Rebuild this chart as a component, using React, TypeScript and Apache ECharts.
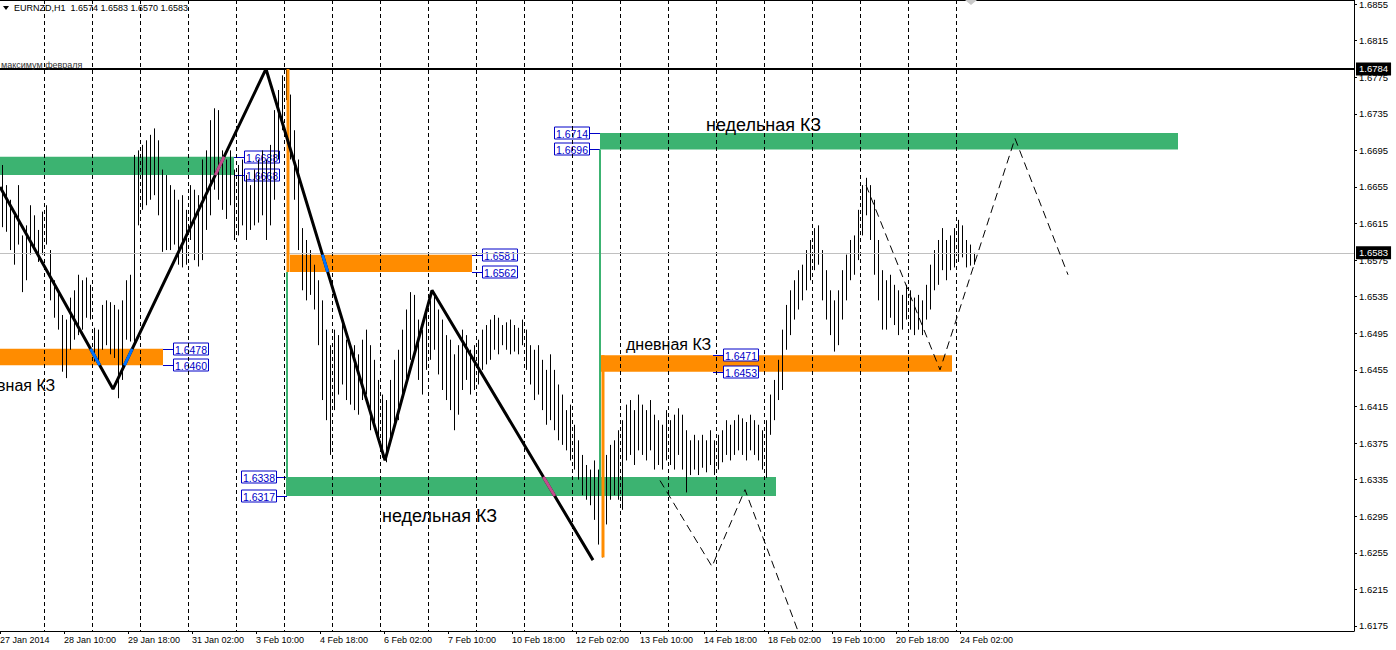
import React, { useEffect, useRef } from "react";
import * as echarts from "echarts";

const title = "EURNZD,H1  1.6574 1.6583 1.6570 1.6583";

const timeLabels = [
  "27 Jan 2014", "28 Jan 10:00", "29 Jan 18:00", "31 Jan 02:00", "3 Feb 10:00", "4 Feb 18:00",
  "6 Feb 02:00", "7 Feb 10:00", "10 Feb 18:00", "12 Feb 02:00", "13 Feb 10:00", "14 Feb 18:00",
  "18 Feb 02:00", "19 Feb 10:00", "20 Feb 18:00", "24 Feb 02:00",
];
const timeLabelHours = [0, 32, 64, 96, 128, 160, 192, 224, 256, 288, 320, 352, 384, 416, 448, 480];
const daySeparatorHours = [22, 46, 70, 94, 118, 142, 166, 190, 214, 238, 262, 286, 310, 334, 358, 382, 406, 430, 454, 478];
const priceTicks = [
  1.6175, 1.6215, 1.6255, 1.6295, 1.6335, 1.6375, 1.6415, 1.6455, 1.6495, 1.6535,
  1.6575, 1.6615, 1.6655, 1.6695, 1.6735, 1.6775, 1.6815, 1.6855,
];

// two-hour bars
const barHigh = [
  1.6679, 1.6657, 1.6641, 1.6624, 1.6657, 1.6602, 1.6613, 1.6635, 1.6624, 1.6608,
  1.6628, 1.6635, 1.6586, 1.6553, 1.6542, 1.6515, 1.6510, 1.6534, 1.6542, 1.6559,
  1.6553, 1.6556, 1.6548, 1.6501, 1.6499, 1.6526, 1.6531, 1.6529, 1.6526, 1.6521,
  1.6531, 1.6553, 1.6559, 1.6690, 1.6695, 1.6701, 1.6706, 1.6712, 1.6719, 1.6706,
  1.6674, 1.6668, 1.6657, 1.6652, 1.6641, 1.6646, 1.6630, 1.6657, 1.6652, 1.6646,
  1.6685, 1.6695, 1.6728, 1.6741, 1.6739, 1.6695, 1.6685, 1.6695, 1.6674, 1.6679,
  1.6685, 1.6668, 1.6657, 1.6674, 1.6685, 1.6695, 1.6685, 1.6701, 1.6739, 1.6761,
  1.6777, 1.6784, 1.6756, 1.6717, 1.6685, 1.6610, 1.6597, 1.6586, 1.6570, 1.6553,
  1.6531, 1.6499, 1.6482, 1.6499, 1.6493, 1.6510, 1.6488, 1.6477, 1.6482, 1.6472,
  1.6488, 1.6499, 1.6482, 1.6466, 1.6444, 1.6428, 1.6422, 1.6444, 1.6466, 1.6477,
  1.6499, 1.6521, 1.6540, 1.6537, 1.6510, 1.6499, 1.6521, 1.6531, 1.6537, 1.6521,
  1.6510, 1.6493, 1.6488, 1.6472, 1.6482, 1.6499, 1.6493, 1.6477, 1.6482, 1.6488,
  1.6499, 1.6504, 1.6510, 1.6515, 1.6512, 1.6504, 1.6507, 1.6510, 1.6504, 1.6501,
  1.6510, 1.6499, 1.6482, 1.6477, 1.6482, 1.6466, 1.6455, 1.6472, 1.6455, 1.6439,
  1.6428, 1.6411, 1.6417, 1.6395, 1.6378, 1.6362, 1.6351, 1.6346, 1.6356, 1.6346,
  1.6346, 1.6362, 1.6373, 1.6378, 1.6389, 1.6400, 1.6417, 1.6422, 1.6411, 1.6428,
  1.6417, 1.6411, 1.6422, 1.6406, 1.6400, 1.6395, 1.6411, 1.6400, 1.6406, 1.6413,
  1.6406, 1.6389, 1.6378, 1.6384, 1.6378, 1.6384, 1.6378, 1.6389, 1.6378, 1.6384,
  1.6389, 1.6400, 1.6395, 1.6400, 1.6406, 1.6402, 1.6398, 1.6406, 1.6400, 1.6395,
  1.6389, 1.6400, 1.6428, 1.6444, 1.6466, 1.6499, 1.6526, 1.6542, 1.6553, 1.6564,
  1.6570, 1.6586, 1.6597, 1.6610, 1.6613, 1.6586, 1.6564, 1.6542, 1.6531, 1.6542,
  1.6564, 1.6581, 1.6597, 1.6602, 1.6630, 1.6657, 1.6665, 1.6657, 1.6641, 1.6597,
  1.6564, 1.6553, 1.6559, 1.6548, 1.6542, 1.6537, 1.6548, 1.6542, 1.6534, 1.6537,
  1.6531, 1.6548, 1.6570, 1.6586, 1.6597, 1.6610, 1.6597, 1.6602, 1.6610, 1.6619,
  1.6613, 1.6597, 1.6592, 1.6583,
];
const barLow = [
  1.6611, 1.6606, 1.6586, 1.6570, 1.6592, 1.6540, 1.6553, 1.6581, 1.6586, 1.6573,
  1.6581, 1.6592, 1.6531, 1.6512, 1.6499, 1.6453, 1.6446, 1.6477, 1.6488, 1.6493,
  1.6499, 1.6512, 1.6510, 1.6464, 1.6461, 1.6477, 1.6482, 1.6472, 1.6468, 1.6424,
  1.6444, 1.6488, 1.6486, 1.6482, 1.6613, 1.6630, 1.6635, 1.6641, 1.6646, 1.6624,
  1.6584, 1.6586, 1.6586, 1.6592, 1.6570, 1.6567, 1.6570, 1.6597, 1.6575, 1.6568,
  1.6575, 1.6608, 1.6624, 1.6652, 1.6641, 1.6630, 1.6620, 1.6635, 1.6597, 1.6602,
  1.6613, 1.6597, 1.6608, 1.6613, 1.6616, 1.6624, 1.6597, 1.6613, 1.6641, 1.6685,
  1.6717, 1.6750, 1.6685, 1.6641, 1.6586, 1.6542, 1.6531, 1.6537, 1.6521, 1.6482,
  1.6422, 1.6400, 1.6362, 1.6411, 1.6428, 1.6439, 1.6422, 1.6417, 1.6411, 1.6406,
  1.6422, 1.6428, 1.6389, 1.6395, 1.6378, 1.6359, 1.6354, 1.6378, 1.6395, 1.6400,
  1.6422, 1.6444, 1.6466, 1.6477, 1.6444, 1.6428, 1.6455, 1.6466, 1.6477, 1.6450,
  1.6433, 1.6422, 1.6411, 1.6389, 1.6406, 1.6433, 1.6444, 1.6428, 1.6433, 1.6439,
  1.6455, 1.6461, 1.6466, 1.6477, 1.6472, 1.6482, 1.6477, 1.6472, 1.6475, 1.6472,
  1.6482, 1.6455, 1.6439, 1.6422, 1.6428, 1.6411, 1.6395, 1.6400, 1.6389, 1.6378,
  1.6373, 1.6367, 1.6356, 1.6346, 1.6335, 1.6318, 1.6313, 1.6307, 1.6291, 1.6264,
  1.6250, 1.6286, 1.6313, 1.6318, 1.6313, 1.6302, 1.6356, 1.6362, 1.6351, 1.6367,
  1.6362, 1.6356, 1.6367, 1.6346, 1.6351, 1.6346, 1.6356, 1.6351, 1.6346, 1.6362,
  1.6346, 1.6321, 1.6340, 1.6346, 1.6340, 1.6348, 1.6343, 1.6351, 1.6340, 1.6346,
  1.6354, 1.6362, 1.6356, 1.6362, 1.6367, 1.6362, 1.6356, 1.6367, 1.6362, 1.6356,
  1.6346, 1.6337, 1.6384, 1.6400, 1.6422, 1.6433, 1.6477, 1.6493, 1.6510, 1.6521,
  1.6531, 1.6542, 1.6553, 1.6564, 1.6570, 1.6531, 1.6510, 1.6493, 1.6475, 1.6482,
  1.6510, 1.6531, 1.6553, 1.6559, 1.6575, 1.6602, 1.6624, 1.6597, 1.6559, 1.6531,
  1.6499, 1.6499, 1.6512, 1.6504, 1.6493, 1.6499, 1.6510, 1.6499, 1.6493, 1.6499,
  1.6493, 1.6510, 1.6521, 1.6542, 1.6548, 1.6564, 1.6553, 1.6564, 1.6567, 1.6573,
  1.6578, 1.6567, 1.6569, 1.6570,
];
const hoursPerBar = 2;

// zones (КЗ): time in hours from the first bar, prices
const zoneStart = [0, 0, 145, 143.5, 300, 300.5];
const zoneEnd = [117, 81.5, 236, 388, 589, 476];
const zoneTop = [1.6688, 1.6478, 1.6581, 1.6338, 1.6714, 1.6471];
const zoneBottom = [1.6668, 1.646, 1.6562, 1.6317, 1.6696, 1.6453];
const zoneKind = ["weekly", "daily", "daily", "weekly", "weekly", "daily"];
const zoneLabelHour = [117, 81.5, 236, 143.5, 300, 356.5];
const zoneLabelSide = ["right", "right", "right", "left", "left", "right"];

const connectorHour = [143.5, 144, 300, 301.5];
const connectorFrom = [1.6562, 1.6784, 1.6696, 1.6471];
const connectorTo = [1.6317, 1.6562, 1.6338, 1.625];
const connectorKind = ["weekly", "daily", "weekly", "daily"];

const zigzagHours = [0, 56.5, 133, 192.5, 216, 296.5];
const zigzagPrices = [1.6655, 1.6434, 1.6784, 1.6356, 1.6542, 1.6247];

const projectionAHours = [330, 356, 372.5, 402.5];
const projectionAPrices = [1.6334, 1.624, 1.6324, 1.6149];
const projectionBHours = [433, 470, 507.5, 534];
const projectionBPrices = [1.6657, 1.6455, 1.6708, 1.6559];

const noteTexts = ["недельная КЗ", "недельная КЗ", "дневная КЗ", "дневная КЗ"];
const noteHours = [191, 353, 313, -15];
const notePrices = [1.6295, 1.6723, 1.6483, 1.6438];
const noteKind = ["weekly", "weekly", "daily", "daily"];

const februaryHigh = 1.6784;
const februaryHighName = "максимум февраля";
const lastPrice = 1.6583;

const COLORS: Record<string, string> = { weekly: "#3CB371", daily: "#FF8C00" };
const FONT = "'Liberation Sans', Arial, sans-serif";
const LABEL_BLUE = "#0000C8";

function invert(hex: string) {
  const n = parseInt(hex.slice(1), 16);
  const r = 255 - ((n >> 16) & 255);
  const g = 255 - ((n >> 8) & 255);
  const b = 255 - (n & 255);
  return `rgb(${r},${g},${b})`;
}

function clipSegment(x1: number, y1: number, x2: number, y2: number, xmin: number, ymin: number, xmax: number, ymax: number) {
  let t0 = 0;
  let t1 = 1;
  const dx = x2 - x1;
  const dy = y2 - y1;
  const p = [-dx, dx, -dy, dy];
  const q = [x1 - xmin, xmax - x1, y1 - ymin, ymax - y1];
  for (let i = 0; i < 4; i++) {
    if (p[i] === 0) {
      if (q[i] < 0) return null;
    } else {
      const r = q[i] / p[i];
      if (p[i] < 0) {
        if (r > t1) return null;
        if (r > t0) t0 = r;
      } else {
        if (r < t0) return null;
        if (r < t1) t1 = r;
      }
    }
  }
  return [x1 + t0 * dx, y1 + t0 * dy, x1 + t1 * dx, y1 + t1 * dy];
}

export default function App() {
  const ref = useRef<HTMLDivElement>(null);

  useEffect(() => {
    if (!ref.current) return;
    const chart = echarts.init(ref.current, undefined, { renderer: "svg" });

    const barData = barHigh.map((h, i) => [i * hoursPerBar + hoursPerBar / 2, h, barLow[i]]);
    const zoneData = zoneStart.map((s, i) => [s, zoneEnd[i], zoneTop[i], zoneBottom[i]]);

    const endBox = (v: number) => ({
      show: true,
      position: "end",
      distance: 2,
      formatter: v.toFixed(4),
      color: "#fff",
      backgroundColor: "#000",
      padding: [2, 3, 1, 3],
      fontSize: 9.5,
      fontFamily: FONT,
    });

    const option: any = {
      animation: false,
      backgroundColor: "#ffffff",
      grid: { left: 0, right: 42, top: 0, bottom: 19, containLabel: false, outerBoundsMode: "none" },
      xAxis: {
        type: "value",
        min: 0,
        max: 677,
        axisLine: { show: true, onZero: false, lineStyle: { color: "#000", width: 1 } },
        axisTick: { show: true, customValues: timeLabelHours, length: 3, lineStyle: { color: "#000" } },
        axisLabel: {
          customValues: timeLabelHours,
          formatter: (v: number) => timeLabels[timeLabelHours.indexOf(v)] ?? "",
          align: "left",
          color: "#000",
          fontSize: 9,
          fontFamily: FONT,
          margin: 4,
        },
        splitLine: { show: false },
      },
      yAxis: {
        type: "value",
        position: "right",
        min: 1.61695,
        max: 1.68594,
        axisLine: { show: true, onZero: false, lineStyle: { color: "#000", width: 1 } },
        axisTick: { show: true, customValues: priceTicks, length: 3, lineStyle: { color: "#000" } },
        axisLabel: {
          customValues: priceTicks,
          formatter: (v: number) => v.toFixed(4),
          color: "#000",
          fontSize: 9.5,
          fontFamily: FONT,
          margin: 5,
        },
        splitLine: { show: false },
      },
      graphic: [
        { type: "line", shape: { x1: 0, y1: 0.5, x2: 1354, y2: 0.5 }, style: { stroke: "#000", lineWidth: 1 }, silent: true },
        { type: "polygon", shape: { points: [[3, 6], [9, 6], [6, 10]] }, style: { fill: "#000" }, silent: true },
        { type: "polygon", shape: { points: [[965, 0], [977, 0], [971, 5]] }, style: { fill: "#c8c8c8" }, silent: true },
        {
          type: "text",
          left: 14,
          top: 3,
          style: { text: title, fill: "#000", fontSize: 9, fontFamily: FONT },
          silent: true,
        },
      ],
      series: [
        {
          type: "custom",
          name: "zones",
          z: 1,
          silent: true,
          data: zoneData,
          encode: { x: [0, 1], y: [2, 3] },
          renderItem: (params: any, api: any) => {
            const a = api.coord([api.value(0), api.value(2)]);
            const b = api.coord([api.value(1), api.value(3)]);
            return {
              type: "rect",
              shape: { x: a[0], y: a[1], width: b[0] - a[0], height: b[1] - a[1] },
              style: { fill: COLORS[zoneKind[params.dataIndex]] },
            };
          },
        },
        {
          type: "custom",
          name: "zoneLabels",
          z: 2,
          silent: true,
          data: zoneData,
          encode: { x: [0, 1], y: [2, 3] },
          renderItem: (params: any, api: any) => {
            const i = params.dataIndex;
            const children: any[] = [];
            [zoneTop[i], zoneBottom[i]].forEach((price) => {
              const p = api.coord([zoneLabelHour[i], price]);
              const ax = Math.round(p[0]);
              const y = Math.round(p[1]) + 0.5;
              const right = zoneLabelSide[i] === "right";
              const bx = right ? ax + 10 : ax - 10 - 36;
              children.push({
                type: "line",
                shape: { x1: ax, y1: y, x2: right ? ax + 10 : ax - 10, y2: y },
                style: { stroke: LABEL_BLUE, lineWidth: 1 },
              });
              children.push({
                type: "rect",
                shape: { x: bx + 0.5, y: y - 6.5, width: 35, height: 12 },
                style: { fill: "#fff", stroke: LABEL_BLUE, lineWidth: 1 },
              });
              children.push({
                type: "text",
                x: bx + 18,
                y: y,
                style: {
                  text: price.toFixed(4),
                  fill: LABEL_BLUE,
                  fontSize: 10.5,
                  fontFamily: FONT,
                  align: "center",
                  verticalAlign: "middle",
                },
              });
            });
            return { type: "group", children };
          },
        },
        {
          type: "custom",
          name: "separators",
          z: 3,
          silent: true,
          data: daySeparatorHours.map((h) => [h]),
          encode: { x: 0 },
          renderItem: (params: any, api: any) => {
            const cs = params.coordSys;
            const p = api.coord([api.value(0), 1.65]);
            const x = Math.round(p[0]) + 0.5;
            return {
              type: "line",
              shape: { x1: x, y1: cs.y, x2: x, y2: cs.y + cs.height },
              style: { stroke: "#000", lineWidth: 1, lineDash: [4, 3] },
            };
          },
        },
        {
          type: "custom",
          name: "bars",
          z: 4,
          silent: true,
          data: barData,
          encode: { x: 0, y: [1, 2] },
          renderItem: (params: any, api: any) => {
            const a = api.coord([api.value(0), api.value(1)]);
            const b = api.coord([api.value(0), api.value(2)]);
            const x = Math.round(a[0]) + 0.5;
            return {
              type: "line",
              shape: { x1: x, y1: a[1], x2: x, y2: b[1] },
              style: { stroke: "#000", lineWidth: 1 },
            };
          },
        },
        {
          type: "custom",
          name: "connectors",
          z: 5,
          silent: true,
          data: connectorHour.map((h, i) => [h, connectorFrom[i], connectorTo[i]]),
          encode: { x: 0, y: [1, 2] },
          renderItem: (params: any, api: any) => {
            const i = params.dataIndex;
            const a = api.coord([api.value(0), api.value(1)]);
            const b = api.coord([api.value(0), api.value(2)]);
            const w = connectorKind[i] === "daily" ? 3 : 2;
            return {
              type: "line",
              shape: { x1: Math.round(a[0]), y1: a[1], x2: Math.round(a[0]), y2: b[1] },
              style: { stroke: COLORS[connectorKind[i]], lineWidth: w },
            };
          },
        },
        {
          type: "line",
          name: "zigzag",
          z: 6,
          silent: true,
          symbol: "none",
          data: zigzagHours.map((h, i) => [h, zigzagPrices[i]]),
          lineStyle: { color: "#000", width: 3 },
          markLine: {
            silent: true,
            symbol: ["none", "none"],
            precision: 4,
            data: [
              {
                yAxis: lastPrice,
                lineStyle: { color: "#c0c0c0", width: 1, type: "solid" },
                label: endBox(lastPrice),
              },
              {
                yAxis: februaryHigh,
                lineStyle: { color: "#000", width: 2, type: "solid" },
                label: {
                  show: true,
                  position: "insideStartTop",
                  distance: [1, -1],
                  formatter: februaryHighName,
                  color: "#333",
                  fontSize: 9,
                  fontFamily: FONT,
                },
              },
              {
                yAxis: februaryHigh,
                lineStyle: { color: "#000", width: 2, type: "solid" },
                label: endBox(februaryHigh),
              },
            ],
          },
        },
        {
          type: "custom",
          name: "zigzagInZones",
          z: 7,
          silent: true,
          data: zoneData,
          encode: { x: [0, 1], y: [2, 3] },
          renderItem: (params: any, api: any) => {
            const i = params.dataIndex;
            const a = api.coord([api.value(0), api.value(2)]);
            const b = api.coord([api.value(1), api.value(3)]);
            const pts = zigzagHours.map((h, k) => api.coord([h, zigzagPrices[k]]));
            const children: any[] = [];
            for (let k = 0; k < pts.length - 1; k++) {
              const c = clipSegment(pts[k][0], pts[k][1], pts[k + 1][0], pts[k + 1][1], a[0], a[1], b[0], b[1]);
              if (c) {
                children.push({
                  type: "line",
                  shape: { x1: c[0], y1: c[1], x2: c[2], y2: c[3] },
                  style: { stroke: invert(COLORS[zoneKind[i]]), lineWidth: 3 },
                });
              }
            }
            return { type: "group", children };
          },
        },
        {
          type: "line",
          name: "projectionA",
          z: 6,
          silent: true,
          symbol: "none",
          data: projectionAHours.map((h, i) => [h, projectionAPrices[i]]),
          lineStyle: { color: "#000", width: 1, type: [8, 5] },
        },
        {
          type: "line",
          name: "projectionB",
          z: 6,
          silent: true,
          symbol: "none",
          data: projectionBHours.map((h, i) => [h, projectionBPrices[i]]),
          lineStyle: { color: "#000", width: 1, type: [8, 5] },
        },
        {
          type: "custom",
          name: "notes",
          z: 8,
          silent: true,
          clip: false,
          data: noteHours.map((h, i) => [h, notePrices[i]]),
          encode: { x: 0, y: 1 },
          renderItem: (params: any, api: any) => {
            const i = params.dataIndex;
            const p = api.coord([api.value(0), api.value(1)]);
            return {
              type: "text",
              x: p[0],
              y: p[1],
              style: {
                text: noteTexts[i],
                fill: "#000",
                fontSize: noteKind[i] === "weekly" ? 18 : 16,
                fontFamily: FONT,
                align: "left",
                verticalAlign: "middle",
              },
            };
          },
        },
      ],
    };

    chart.setOption(option);
    return () => chart.dispose();
  }, []);

  return (
    <div
      ref={ref}
      style={{ position: "absolute", left: 0, top: 0, width: 1396, height: 650, background: "#fff" }}
    />
  );
}
